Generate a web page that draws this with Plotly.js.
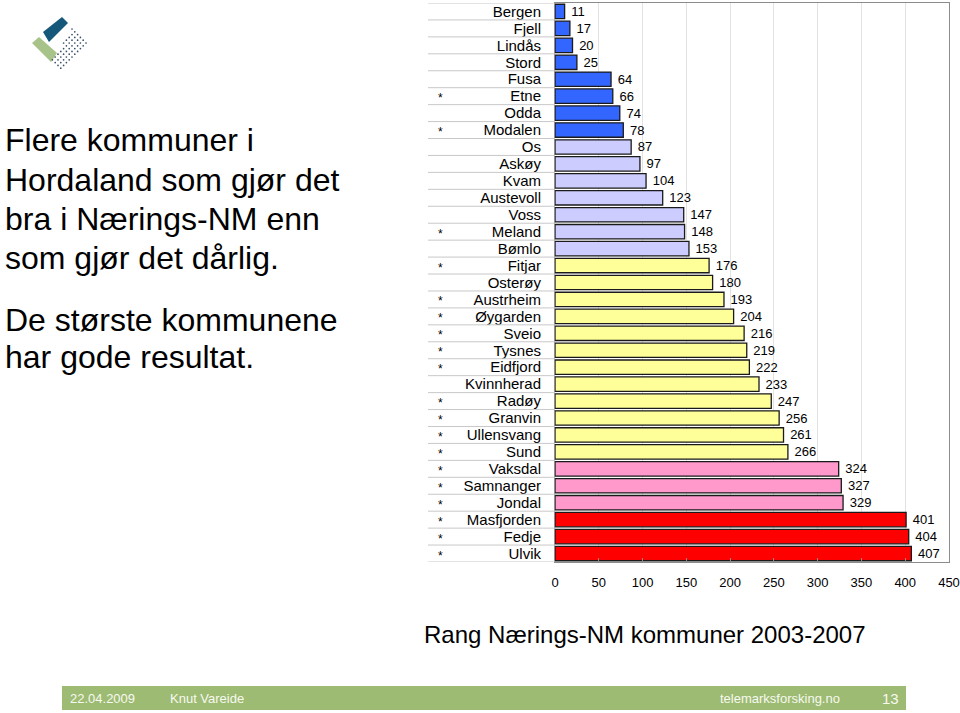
<!DOCTYPE html>
<html>
<head>
<meta charset="utf-8">
<script src="https://cdn.plot.ly/plotly-3.0.1.min.js"></script>
<style>
  html, body { margin: 0; padding: 0; background: #fff; }
  #chart { width: 960px; height: 713px; }
</style>
</head>
<body>
<div id="chart"></div>
<script>
// Rang i Nærings-NM 2003-2007, kommuner i Hordaland
var kommuner = ['Bergen', 'Fjell', 'Lindås', 'Stord', 'Fusa', 'Etne', 'Odda', 'Modalen',
    'Os', 'Askøy', 'Kvam', 'Austevoll', 'Voss', 'Meland', 'Bømlo',
    'Fitjar', 'Osterøy', 'Austrheim', 'Øygarden', 'Sveio', 'Tysnes', 'Eidfjord',
    'Kvinnherad', 'Radøy', 'Granvin', 'Ullensvang', 'Sund',
    'Vaksdal', 'Samnanger', 'Jondal', 'Masfjorden', 'Fedje', 'Ulvik'];
var rang = [11, 17, 20, 25, 64, 66, 74, 78,
    87, 97, 104, 123, 147, 148, 153,
    176, 180, 193, 204, 216, 219, 222,
    233, 247, 256, 261, 266,
    324, 327, 329, 401, 404, 407];
// kommuner merket med *
var stjerne = [0, 0, 0, 0, 0, 1, 0, 1,
    0, 0, 0, 0, 0, 1, 0,
    1, 0, 1, 1, 1, 1, 1,
    0, 1, 1, 1, 1,
    1, 1, 1, 1, 1, 1];
var xTicks = [0, 50, 100, 150, 200, 250, 300, 350, 400, 450];

var FONT = 'Liberation Sans, Arial, sans-serif';

// farge etter rang-gruppe
function farge(v) {
    if (v < 80) return '#3366FF';
    if (v < 160) return '#CCCCFF';
    if (v < 300) return '#FFFF99';
    if (v < 350) return '#FF99CC';
    return '#FF0000';
}

// plottområde i piksler
var L = 555, T = 3, W = 394, H = 559;
function px(x) { return (x - L) / W; }
function py(y) { return (T + H - y) / H; }

var data = [{
    type: 'bar',
    orientation: 'h',
    x: rang,
    y: kommuner,
    marker: {
        color: rang.map(farge),
        line: { color: '#1a1a1a', width: 1.3 }
    },
    text: rang.map(function (v) { return '\u00a0' + v; }),
    textposition: 'outside',
    constraintext: 'none',
    cliponaxis: false,
    textfont: { family: FONT, size: 13, color: '#000' },
    hoverinfo: 'none',
    showlegend: false
}];

var shapes = [];
var annotations = [];

// skillelinjer i navnefeltet
for (var i = 0; i <= kommuner.length; i++) {
    shapes.push({
        type: 'line', xref: 'paper', yref: 'y',
        x0: px(428), x1: 0, y0: i - 0.5, y1: i - 0.5,
        line: { color: '#c8c8c8', width: 1 }
    });
}

// stjerner
kommuner.forEach(function (k, i) {
    if (stjerne[i]) {
        annotations.push({
            xref: 'paper', yref: 'y', x: px(436), y: k,
            text: '*', showarrow: false, yshift: -2,
            font: { family: FONT, size: 12, color: '#000' }
        });
    }
});

// tittel under aksen
annotations.push({
    xref: 'paper', yref: 'paper', x: px(645), y: py(634),
    xanchor: 'center', yanchor: 'middle',
    text: 'Rang Nærings-NM kommuner 2003-2007', showarrow: false,
    font: { family: FONT, size: 24, color: '#000' }
});

// tekst til venstre
var venstre = [
    ['Flere kommuner i', 140],
    ['Hordaland som gjør det', 180],
    ['bra i Nærings-NM enn', 219],
    ['som gjør det dårlig.', 258],
    ['De største kommunene', 320],
    ['har gode resultat.', 357]
];
venstre.forEach(function (l) {
    annotations.push({
        xref: 'paper', yref: 'paper', x: px(3), y: py(l[1]),
        xanchor: 'left', yanchor: 'middle',
        text: l[0], showarrow: false,
        font: { family: FONT, size: 32, color: '#000' }
    });
});

// bunnlinje
shapes.push({
    type: 'rect', xref: 'paper', yref: 'paper',
    x0: px(62), x1: px(906), y0: py(710), y1: py(686),
    fillcolor: '#9dbb72', line: { width: 0 }, layer: 'below'
});
var bunn = [['22.04.2009', 68], ['Knut Vareide', 168], ['telemarksforsking.no', 718], ['13', 880]];
bunn.forEach(function (b) {
    annotations.push({
        xref: 'paper', yref: 'paper', x: px(b[1]), y: py(698),
        xanchor: 'left', yanchor: 'middle',
        text: b[0], showarrow: false,
        font: { family: 'Liberation Sans Narrow, ' + FONT, size: b[0] === '13' ? 15 : 13, color: '#f7f9f0' }
    });
});

// logo
function poly(pts, col) {
    var d = pts.map(function (p, j) {
        return (j ? 'L' : 'M') + px(p[0]) + ',' + py(p[1]);
    }).join(' ') + ' Z';
    shapes.push({ type: 'path', xref: 'paper', yref: 'paper', path: d,
        fillcolor: col, line: { width: 0 } });
}
poly([[43, 32], [62, 17], [68, 23], [49, 42]], '#16587a');
poly([[32, 43], [39, 37], [57, 53], [51, 62]], '#a7c38a');
var prikkFelt = [[72, 29], [88, 43], [60, 71], [52, 60]];
function inni(p, poly) {
    for (var k = 0; k < poly.length; k++) {
        var a = poly[k], b = poly[(k + 1) % poly.length];
        var c = (b[0] - a[0]) * (p[1] - a[1]) - (b[1] - a[1]) * (p[0] - a[0]);
        if (c < -0.5) return false;
    }
    return true;
}
for (var u = 0; u < 9; u++) {
    for (var v = -2; v < 12; v++) {
        var cx = 72 + u * 2.8 - v * 2.8;
        var cy = 29 + u * 2.8 + v * 2.8;
        if (!inni([cx, cy], prikkFelt)) continue;
        var r = 0.85;
        shapes.push({ type: 'circle', xref: 'paper', yref: 'paper',
            x0: px(cx - r), x1: px(cx + r), y0: py(cy + r), y1: py(cy - r),
            fillcolor: '#3a4f66', line: { width: 0 } });
    }
}

var layout = {
    width: 960,
    height: 713,
    margin: { l: L, r: 960 - L - W, t: T, b: 713 - T - H },
    paper_bgcolor: '#ffffff',
    plot_bgcolor: '#ffffff',
    bargap: 0.15,
    font: { family: FONT, color: '#000' },
    xaxis: {
        range: [0, 450],
        tickvals: xTicks,
        showgrid: true,
        gridcolor: '#e2e2e2',
        zeroline: false,
        showline: true,
        linecolor: '#8c8c8c',
        mirror: true,
        ticks: 'inside',
        ticklen: 4,
        tickcolor: '#8c8c8c',
        ticklabelstandoff: 8,
        tickfont: { family: FONT, size: 13, color: '#000' }
    },
    yaxis: {
        type: 'category',
        range: [kommuner.length - 0.5, -0.5],
        tickmode: 'array',
        tickvals: kommuner,
        ticktext: kommuner,
        showgrid: false,
        showline: true,
        linecolor: '#8c8c8c',
        mirror: true,
        ticks: '',
        ticklabelstandoff: 10,
        tickfont: { family: FONT, size: 15, color: '#000' }
    },
    shapes: shapes,
    annotations: annotations
};

Plotly.newPlot('chart', data, layout, { displayModeBar: false, staticPlot: true });
</script>
</body>
</html>
